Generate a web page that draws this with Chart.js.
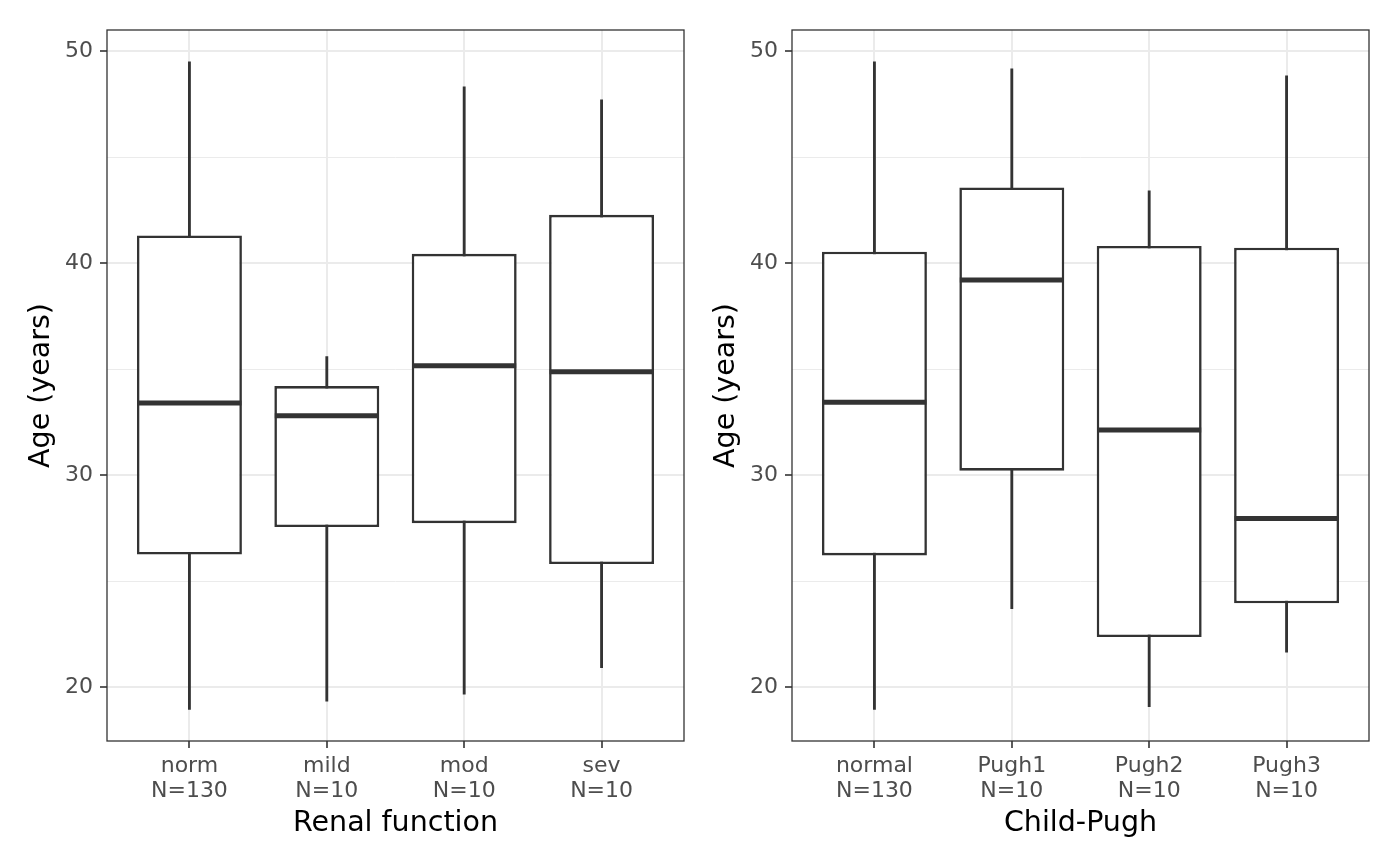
<!DOCTYPE html>
<html>
<head>
<meta charset="utf-8">
<script src="https://cdn.jsdelivr.net/npm/chart.js@4/dist/chart.umd.min.js"></script>
<style>
  body { margin: 0; background: #fff; }
  .wrap { position: absolute; top: 0; height: 866px; }
  #left { left: 0; width: 700px; }
  #right { left: 685px; width: 715px; }
</style>
</head>
<body>
<div class="wrap" id="left"><canvas id="renalChart" width="700" height="866"></canvas></div>
<div class="wrap" id="right"><canvas id="pughChart" width="715" height="866"></canvas></div>
<script>
// y axis ticks
const yMajor = [20, 30, 40, 50];
const yMinor = [25, 35, 45];

// Renal function panel
const renalCats = ['norm', 'mild', 'mod', 'sev'];
const renalN = [130, 10, 10, 10];
const renalMin = [18.95, 19.34, 19.66, 20.91];
const renalQ1 = [26.25, 27.55, 27.73, 25.80];
const renalMed = [33.40, 32.80, 35.16, 34.88];
const renalQ3 = [41.31, 34.20, 40.44, 42.28];
const renalMax = [49.50, 35.59, 48.32, 47.70];

// Child-Pugh panel
const pughCats = ['normal', 'Pugh1', 'Pugh2', 'Pugh3'];
const pughN = [130, 10, 10, 10];
const pughMin = [18.95, 23.70, 19.07, 21.65];
const pughQ1 = [26.21, 30.21, 22.36, 23.95];
const pughMed = [33.44, 39.20, 32.13, 27.95];
const pughQ3 = [40.54, 43.57, 40.81, 40.73];
const pughMax = [49.50, 49.17, 43.41, 48.84];

const dark = '#333333';
const gridCol = '#ebebeb';
const font = 'DejaVu Sans';

const panelBorder = {
    id: 'panelBorder',
    afterDraw(chart) {
        const a = chart.chartArea, c = chart.ctx;
        c.save();
        c.strokeStyle = dark;
        c.lineWidth = 1.3;
        c.strokeRect(a.left, a.top, a.right - a.left, a.bottom - a.top);
        c.restore();
    }
};

function makeBoxChart(id, cats, n, mins, q1, med, q3, maxs, title, padRight) {
    const pos = cats.map((c, i) => i + 1);
    return new Chart(document.getElementById(id), {
        data: {
            datasets: [
                {
                    type: 'bar', order: 3, grouped: false,
                    data: pos.map((x, i) => ({x: x, y: [mins[i], maxs[i]]})),
                    backgroundColor: dark, borderWidth: 0, barThickness: 2.2
                },
                {
                    type: 'bar', order: 2, grouped: false,
                    data: pos.map((x, i) => ({x: x, y: [q1[i], q3[i]]})),
                    backgroundColor: '#ffffff', borderColor: dark, borderWidth: 2.6,
                    borderSkipped: false, barPercentage: 0.764, categoryPercentage: 1
                },
                {
                    type: 'line', order: 1, showLine: false,
                    data: pos.map((x, i) => ({x: x, y: med[i]})),
                    pointStyle: 'line', pointRadius: 52, pointHoverRadius: 52,
                    pointBorderWidth: 5, pointBorderColor: dark, borderColor: dark
                }
            ]
        },
        options: {
            responsive: false,
            animation: false,
            events: [],
            layout: { autoPadding: false, padding: { top: 30, right: padRight, left: 0, bottom: 0 } },
            plugins: { legend: { display: false }, tooltip: { enabled: false } },
            scales: {
                x: {
                    type: 'linear', min: 0.4, max: 4.6, offset: false,
                    afterBuildTicks: s => { s.ticks = pos.map(v => ({value: v})); },
                    afterFit: s => { s.height = 125; },
                    border: { display: false },
                    grid: { offset: false, color: gridCol, lineWidth: 2, tickColor: dark, tickLength: 7, tickWidth: 1.6 },
                    ticks: {
                        color: '#4d4d4d', padding: 6, maxRotation: 0, autoSkip: false,
                        font: { family: font, size: 22, lineHeight: 1.12 },
                        callback: v => [cats[v - 1], 'N=' + n[v - 1]]
                    },
                    title: {
                        display: true, text: title, color: '#000',
                        font: { family: font, size: 28.5 }, padding: { top: 0, bottom: 25 }
                    }
                },
                y: {
                    min: 17.455, max: 51.0,
                    afterBuildTicks: s => {
                        s.ticks = yMajor.concat(yMinor).sort((a, b) => a - b).map(v => ({value: v}));
                    },
                    afterFit: s => { s.width = 107; },
                    border: { display: false },
                    grid: {
                        color: gridCol,
                        lineWidth: c => yMajor.includes(c.tick.value) ? 2 : 1,
                        tickColor: c => yMajor.includes(c.tick.value) ? dark : 'rgba(0,0,0,0)',
                        tickLength: 7, tickWidth: 1.6
                    },
                    ticks: {
                        color: '#4d4d4d', padding: 7,
                        font: { family: font, size: 22 },
                        callback: v => yMajor.includes(v) ? String(v) : ''
                    },
                    title: {
                        display: true, text: 'Age (years)', color: '#000',
                        font: { family: font, size: 28.5 }, padding: { top: 24, bottom: 0 }
                    }
                }
            }
        },
        plugins: [panelBorder]
    });
}

makeBoxChart('renalChart', renalCats, renalN, renalMin, renalQ1, renalMed, renalQ3, renalMax, 'Renal function', 16);
makeBoxChart('pughChart', pughCats, pughN, pughMin, pughQ1, pughMed, pughQ3, pughMax, 'Child-Pugh', 31);
</script>
</body>
</html>
